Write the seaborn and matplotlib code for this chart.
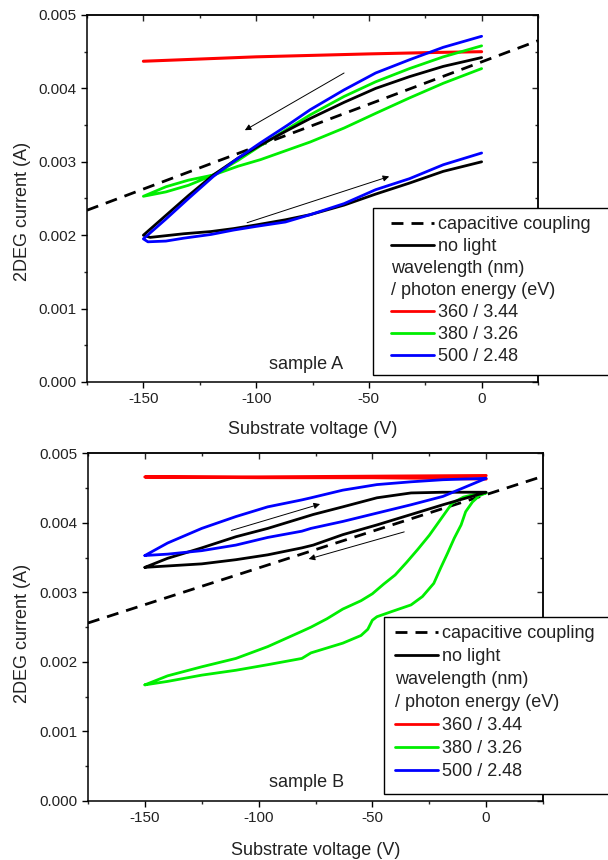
import numpy as np
import matplotlib
matplotlib.use("Agg")
import matplotlib.pyplot as plt
import seaborn as sns
from matplotlib.lines import Line2D
from matplotlib.text import Text
from matplotlib.patches import Rectangle
from matplotlib.legend_handler import HandlerBase, HandlerLine2D
from matplotlib.ticker import MultipleLocator, FormatStrFormatter

# ---------------- data (voltage in V, current in mA) ----------------
# Sample A
capA_V = [-175, 25]
capA_I = [2.34, 4.65]

redA_V = [-150, -100, -50, -20, 0]
redA_I = [4.37, 4.43, 4.47, 4.49, 4.50]

blackA_V = [0, -17, -32, -47, -61, -76, -86, -98, -108, -119, -130, -140, -150,
            -147, -132, -120, -110, -100, -87, -76, -61, -47, -32, -17, 0]
blackA_I = [4.42, 4.30, 4.16, 4.00, 3.81, 3.59, 3.43, 3.23, 3.05, 2.82, 2.54, 2.27, 2.00,
            1.97, 2.02, 2.05, 2.09, 2.14, 2.21, 2.28, 2.41, 2.56, 2.71, 2.87, 3.00]

greenA_V = [0, -17, -32, -47, -61, -76, -87, -98, -108, -119, -130, -140, -150,
            -140, -130, -119, -108, -98, -87, -76, -61, -47, -32, -17, 0]
greenA_I = [4.58, 4.43, 4.27, 4.09, 3.89, 3.64, 3.43, 3.22, 3.02, 2.82, 2.68, 2.59, 2.53,
            2.66, 2.75, 2.82, 2.94, 3.03, 3.15, 3.27, 3.46, 3.66, 3.87, 4.07, 4.27]

blueA_V = [0, -17, -32, -47, -61, -76, -86, -98, -108, -119, -130, -140, -150,
           -148, -140, -132, -120, -110, -100, -87, -76, -61, -47, -32, -17, 0]
blueA_I = [4.71, 4.56, 4.39, 4.21, 3.98, 3.71, 3.50, 3.26, 3.05, 2.80, 2.50, 2.22, 1.95,
           1.91, 1.92, 1.96, 2.01, 2.07, 2.12, 2.18, 2.28, 2.43, 2.62, 2.77, 2.96, 3.12]

arrowsA = [((-61, 4.21), (-105, 3.43)), ((-104, 2.17), (-41, 2.80))]

# Sample B
capB_V = [-175, 25]
capB_I = [2.56, 4.67]

redB_V = [0, -50, -100, -150, -100, -50, -20, 0]
redB_I = [4.68, 4.67, 4.66, 4.66, 4.65, 4.65, 4.64, 4.63]

blackB_V = [-150, -140, -125, -110, -96, -81, -76, -63, -48, -33, -19, 0,
            -19, -33, -48, -63, -76, -81, -96, -110, -125, -140, -150]
blackB_I = [3.36, 3.49, 3.64, 3.80, 3.92, 4.07, 4.12, 4.23, 4.36, 4.43, 4.44, 4.44,
            4.26, 4.12, 3.97, 3.83, 3.68, 3.64, 3.54, 3.47, 3.41, 3.38, 3.36]

blueB_V = [-150, -140, -125, -110, -96, -81, -77, -63, -48, -33, -19, 0,
           -19, -33, -48, -63, -77, -81, -96, -110, -125, -140, -150]
blueB_I = [3.53, 3.71, 3.92, 4.09, 4.23, 4.33, 4.36, 4.47, 4.55, 4.59, 4.62, 4.64,
           4.38, 4.26, 4.14, 4.02, 3.92, 3.88, 3.79, 3.68, 3.60, 3.55, 3.53]

greenB_V = [-150, -140, -125, -110, -96, -81, -77, -70, -63, -55, -50, -45, -40, -35,
            -30, -25, -20, -15, -10, -5, 0,
            -3, -6, -9, -11, -14, -17, -20, -23, -28, -33, -41, -48, -50, -52, -55,
            -63, -70, -77, -81, -96, -110, -125, -140, -150]
greenB_I = [1.67, 1.80, 1.93, 2.05, 2.22, 2.44, 2.50, 2.62, 2.76, 2.88, 2.98, 3.12, 3.25, 3.43,
            3.62, 3.82, 4.05, 4.28, 4.37, 4.41, 4.43,
            4.39, 4.30, 4.16, 3.97, 3.78, 3.56, 3.35, 3.13, 2.94, 2.82, 2.73, 2.65, 2.60, 2.47, 2.38,
            2.27, 2.20, 2.13, 2.05, 1.96, 1.88, 1.81, 1.72, 1.67]

arrowsB = [((-112, 3.89), (-73, 4.27)), ((-36, 3.87), (-78, 3.48))]

legend_labels = ["capacitive coupling", "no light", "wavelength (nm)",
                 "/ photon energy (eV)", "360 / 3.44", "380 / 3.26", "500 / 2.48"]
x_ticks = [-150, -100, -50, 0]
y_ticks = [0.000, 0.001, 0.002, 0.003, 0.004, 0.005]

RED, GREEN, BLUE, BLACK = "#ff0000", "#00ee00", "#0000ff", "#000000"
DASH = (0, (4.3, 2.9))

# ---------------- style ----------------
sns.set_style("ticks")
plt.rcParams['font.family'] = ['Liberation Sans', 'DejaVu Sans']
plt.rcParams['axes.linewidth'] = 1.1
plt.rcParams['axes.unicode_minus'] = False


class TextRow:
    def __init__(self, text):
        self.text = text


class TextRowHandler(HandlerBase):
    def __init__(self, xoff, **kw):
        super().__init__(**kw)
        self.xoff = xoff

    def create_artists(self, legend, orig_handle, xdescent, ydescent, width,
                       height, fontsize, trans):
        t = Text(self.xoff * fontsize - xdescent, 0, orig_handle.text,
                 fontsize=fontsize, va='baseline', ha='left', color='#222222',
                 transform=trans)
        return [t]


def mA(a):
    return np.asarray(a, dtype=float) * 1e-3


def draw_panel(ax, cap, red, black, green, blue, arrows, sample_text, sample_pos,
               legend_box, ylab_y, xlab_y, lspace, xpad):
    line_kw = dict(sort=False, estimator=None, ax=ax, legend=False)
    sns.lineplot(x=np.asarray(cap[0]), y=mA(cap[1]), color=BLACK, linewidth=2.0,
                 linestyle=DASH, **line_kw)
    sns.lineplot(x=np.asarray(red[0]), y=mA(red[1]), color=RED, linewidth=2.2, **line_kw)
    sns.lineplot(x=np.asarray(green[0]), y=mA(green[1]), color=GREEN, linewidth=2.0, **line_kw)
    sns.lineplot(x=np.asarray(black[0]), y=mA(black[1]), color=BLACK, linewidth=2.0, **line_kw)
    sns.lineplot(x=np.asarray(blue[0]), y=mA(blue[1]), color=BLUE, linewidth=2.0, **line_kw)

    for (x0, y0), (x1, y1) in arrows:
        ax.annotate('', xy=(x1, y1 * 1e-3), xytext=(x0, y0 * 1e-3),
                    arrowprops=dict(arrowstyle='-|>', color='black', lw=0.7,
                                    mutation_scale=9, shrinkA=0, shrinkB=0))

    ax.text(sample_pos[0], sample_pos[1] * 1e-3, sample_text, fontsize=13,
            ha='center', va='center', color='#222222')

    ax.set_xlim(-175, 25)
    ax.set_ylim(0, 0.005)
    ax.set_xticks(x_ticks)
    ax.set_yticks(y_ticks)
    ax.xaxis.set_minor_locator(MultipleLocator(25))
    ax.yaxis.set_minor_locator(MultipleLocator(0.0005))
    ax.yaxis.set_major_formatter(FormatStrFormatter('%.3f'))
    ax.tick_params(which='major', direction='out', length=4.5, width=1.0,
                   labelsize=11, pad=3, colors='black', labelcolor='#222222')
    ax.tick_params(which='minor', direction='out', length=2.5, width=1.0)
    for s in ax.spines.values():
        s.set_visible(True)
        s.set_color('black')
        s.set_linewidth(1.1)

    secx = ax.secondary_xaxis('top')
    secx.set_xticks(x_ticks)
    secx.xaxis.set_minor_locator(MultipleLocator(25))
    secx.tick_params(which='major', direction='in', length=4.5, width=1.0, labeltop=False)
    secx.tick_params(which='minor', direction='in', length=2.5, width=1.0)
    secy = ax.secondary_yaxis('right')
    secy.set_yticks(y_ticks)
    secy.yaxis.set_minor_locator(MultipleLocator(0.0005))
    secy.tick_params(which='major', direction='in', length=4.5, width=1.0, labelright=False)
    secy.tick_params(which='minor', direction='in', length=2.5, width=1.0)

    ax.set_xlabel("Substrate voltage (V)", fontsize=13, color='#222222')
    ax.set_ylabel("2DEG current (A)", fontsize=13, color='#222222')
    ax.xaxis.set_label_coords(0.5, xlab_y)
    ax.yaxis.set_label_coords(-0.125, ylab_y)

    # legend frame (extends past the right edge of the figure, as in the original)
    lx0, ly_top, ly_bot = legend_box
    frame = Rectangle((lx0 / 608, 1 - ly_bot / 860), (625 - lx0) / 608,
                      (ly_bot - ly_top) / 860, transform=fig.transFigure,
                      facecolor='white', edgecolor='black', linewidth=1.0,
                      clip_on=False, zorder=4.9)
    ax.add_patch(frame)

    handles = [Line2D([], [], color=BLACK, lw=2.0, linestyle=DASH),
               Line2D([], [], color=BLACK, lw=2.0),
               TextRow(legend_labels[2]), TextRow(legend_labels[3]),
               Line2D([], [], color=RED, lw=2.0),
               Line2D([], [], color=GREEN, lw=2.0),
               Line2D([], [], color=BLUE, lw=2.0)]
    labels = [legend_labels[0], legend_labels[1], "", "",
              legend_labels[4], legend_labels[5], legend_labels[6]]
    leg = ax.legend(handles, labels, loc='upper left',
                    bbox_to_anchor=(lx0 / 608, 1 - ly_top / 860),
                    bbox_transform=fig.transFigure, borderaxespad=0, fontsize=13,
                    frameon=False,
                    handlelength=2.4 + xpad, handletextpad=0.22, labelspacing=lspace,
                    borderpad=0.45,
                    handler_map={Line2D: HandlerLine2D(xpad=xpad),
                                 TextRow: TextRowHandler(xpad)})
    leg.set_zorder(5)
    for t in leg.get_texts():
        t.set_color('#222222')
    return leg


fig = plt.figure(figsize=(6.08, 8.60), dpi=100)
axA = fig.add_axes([87 / 608, 1 - 382 / 860, 451 / 608, 367 / 860])
axB = fig.add_axes([88 / 608, 1 - 801 / 860, 455 / 608, 347.7 / 860])

draw_panel(axA, (capA_V, capA_I), (redA_V, redA_I), (blackA_V, blackA_I),
           (greenA_V, greenA_I), (blueA_V, blueA_I), arrowsA, "sample A", (-78, 0.245),
           (372.7, 207.7, 375.0), 0.466, -0.106, 0.28, 0.55)
draw_panel(axB, (capB_V, capB_I), (redB_V, redB_I), (blackB_V, blackB_I),
           (greenB_V, greenB_I), (blueB_V, blueB_I), arrowsB, "sample B", (-79, 0.27),
           (384.0, 617.3, 794.0), 0.483, -0.117, 0.33, 0.15)

fig.savefig("out.png", dpi=100)
